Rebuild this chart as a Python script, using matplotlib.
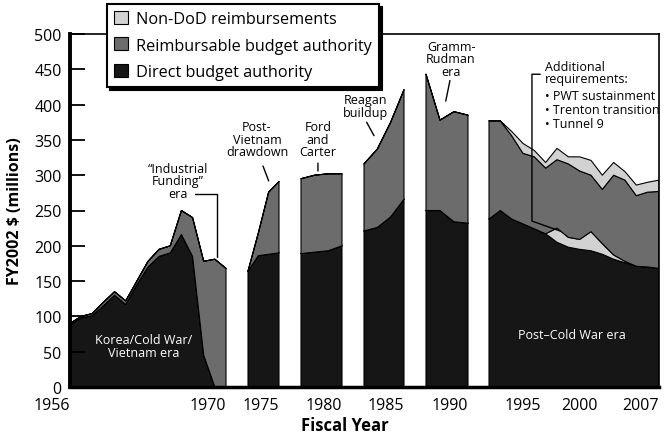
import numpy as np
import matplotlib.pyplot as plt
from matplotlib.patches import Patch

plt.rcParams['font.family'] = ['Open Sans', 'DejaVu Sans']

nan = np.nan
years = list(range(1956, 2008))

# gap years (1971, 1976, 1981, 1986, 1991) are nan
direct = [88, 98, 101, 115, 130, 117, 145, 170, 185, 190, 216, 185, 45, 0, 0,
          nan, 164, 186, 188, 190,
          nan, 189, 191, 193, 200,
          nan, 221, 226, 241, 266,
          nan, 250, 250, 234, 232,
          nan, 238, 250, 238, 231, 224, 217, 205, 198, 195, 193, 188, 181, 176, 171, 170, 168]
additional = [0] * 15 + [nan, 0, 0, 0, 0] * 4 + \
             [nan, 0, 0, 0, 0, 0, 0, 20, 14, 14, 27, 15, 6, 2, 0, 0, 0]
reimbursable = [2, 2, 3, 5, 5, 5, 5, 8, 10, 10, 34, 55, 133, 181, 168,
                nan, 0, 32, 88, 101,
                nan, 106, 109, 109, 102,
                nan, 95, 111, 134, 155,
                nan, 193, 128, 156, 153,
                nan, 139, 127, 118, 100, 102, 93, 97, 104, 97, 80, 77, 113, 115, 100, 106, 109]
non_dod = [0] * 15 + [nan, 0, 0, 0, 0] * 4 + \
          [nan, 0, 0, 6, 14, 9, 8, 16, 10, 20, 21, 20, 18, 12, 15, 14, 16]

tick_years = [1956, 1970, 1975, 1980, 1985, 1990, 1995, 2000, 2007]

# the original year axis is drawn unevenly; piecewise breakpoints for the x scale
brk_years = [1956, 1970, 1972, 1975, 1977, 1980, 1982, 1985, 1987, 1990, 1992, 2007]
brk_pos = [0, 156, 178, 209, 231, 272, 294, 334, 356, 398, 419, 589]


def fwd(v):
    return np.interp(v, brk_years, brk_pos)


def inv(p):
    return np.interp(p, brk_pos, brk_years)


c_direct = '#161616'
c_reimb = '#6c6c6c'
c_light = '#d2d2d2'

fig = plt.figure(figsize=(6.64, 4.39), dpi=100)
ax = fig.add_axes([70 / 664, 1 - 388 / 439, 589 / 664, 353 / 439])
ax.set_xscale('function', functions=(fwd, inv))

x = np.array(years, dtype=float)
l1 = np.array(direct, dtype=float)
l2 = l1 + np.array(additional, dtype=float)
l3 = l2 + np.array(reimbursable, dtype=float)
l4 = l3 + np.array(non_dod, dtype=float)

ax.fill_between(x, 0, l1, color=c_direct, ec='black', lw=0.8)
ax.fill_between(x, l1, l2, color=c_light, ec='black', lw=0.8)
ax.fill_between(x, l2, l3, color=c_reimb, ec='black', lw=0.8)
ax.fill_between(x, l3, l4, color=c_light, ec='black', lw=0.8)

ax.set_xlim(1956, 2007)
ax.set_ylim(0, 500)
ax.set_axisbelow(False)

ax.set_yticks(range(0, 501, 50))
ax.tick_params(axis='y', direction='in', length=11, width=1.3, labelsize=11.5, pad=6)
for t in ax.yaxis.get_major_ticks():
    if t.get_loc() == 50:
        t.tick1line.set_color('white')

ax.set_xticks(tick_years, labels=[str(y) for y in tick_years])
ax.tick_params(axis='x', length=0, labelsize=11.5, pad=7)
for lab, y in zip(ax.get_xticklabels(), tick_years):
    lab.set_ha('center' if y in (1995, 2000) else 'right')
ax.set_xticks([1995, 2000], minor=True)
ax.set_xticklabels([], minor=True)
ax.tick_params(axis='x', which='minor', direction='in', length=11, width=1.2, color='white')

for s in ax.spines.values():
    s.set_linewidth(1.2)
ax.spines['left'].set_linewidth(2.8)
ax.spines['bottom'].set_linewidth(2.5)

ax.set_ylabel('FY2002 $ (millions)', fontsize=11.5, fontweight='bold', labelpad=8)
ax.set_xlabel('Fiscal Year', fontsize=12, fontweight='bold')
ax.xaxis.set_label_coords(0.467, -0.082)

# era notes
tk = dict(fontsize=9, ha='center', va='center', linespacing=0.95)
line = dict(arrowstyle='-', lw=1, shrinkA=0, shrinkB=0)
ax.text(1962.6, 58, 'Korea/Cold War/\nVietnam era', color='white', **tk)
ax.text(1965.7, 292, '\u201cIndustrial\nFunding\u201d\nera', **tk)
ax.annotate('', xy=(1969.2, 184), xytext=(1967.2, 273),
            arrowprops=dict(line, connectionstyle='angle,angleA=0,angleB=90,rad=0'))
ax.text(1972.87, 351, 'Post-\nVietnam\ndrawdown', **tk)
ax.annotate('', xy=(1974.0, 292), xytext=(1973.45, 313), arrowprops=line)
ax.text(1978.24, 351, 'Ford\nand\nCarter', **tk)
ax.annotate('', xy=(1978.24, 306), xytext=(1978.24, 317), arrowprops=line)
ax.text(1982.08, 398, 'Reagan\nbuildup', **tk)
ax.annotate('', xy=(1982.75, 356), xytext=(1982.2, 375), arrowprops=line)
ax.text(1988.79, 465, 'Gramm-\nRudman\nera', **tk)
ax.annotate('', xy=(1988.41, 405), xytext=(1988.71, 434), arrowprops=line)
ax.text(1996.94, 445.5, 'Additional\nrequirements:', fontsize=9, ha='left', va='center',
        linespacing=0.95)
ax.text(1996.9, 393, '\u2022 PWT sustainment\n\u2022 Trenton transition\n\u2022 Tunnel 9',
        fontsize=9, ha='left', va='center', linespacing=1.06)
ax.plot([1996.5, 1995.79, 1995.79, 1998.26], [443, 443, 235, 221], color='black', lw=1)
ax.text(1999.32, 75, 'Post\u2013Cold War era', color='white', **tk)

handles = [Patch(facecolor=c_light, edgecolor='black', lw=0.8, label='Non-DoD reimbursements'),
           Patch(facecolor=c_reimb, edgecolor='black', lw=0.8, label='Reimbursable budget authority'),
           Patch(facecolor=c_direct, edgecolor='black', lw=0.8, label='Direct budget authority')]
leg = ax.legend(handles=handles, loc='upper left', bbox_to_anchor=(107 / 664, 1 - 5 / 439),
                bbox_transform=fig.transFigure, fancybox=False, edgecolor='black', framealpha=1,
                fontsize=11.7, handlelength=0.85, handleheight=0.85, handletextpad=0.5,
                labelspacing=0.62, borderpad=0.45, borderaxespad=0,
                shadow={'color': 'black', 'alpha': 1})
leg.get_frame().set_linewidth(1.5)

fig.savefig('out.png', dpi=100)
